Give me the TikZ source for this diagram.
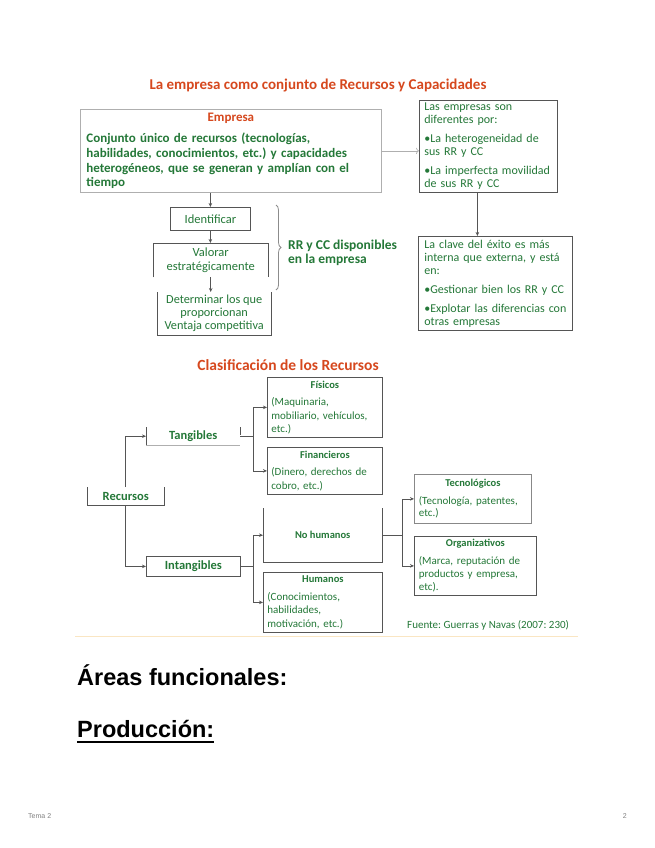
\documentclass[tikz,border=0pt]{standalone}
\usepackage{fontspec}
\setmainfont{Carlito}
\newfontfamily\headfont{Liberation Sans}
\usepackage{tikz}
\usetikzlibrary{arrows.meta, positioning, decorations.pathreplacing}

\definecolor{titlered}{RGB}{214,72,30}
\definecolor{textgreen}{RGB}{36,120,56}
\definecolor{edgegray}{RGB}{85,85,85}
\definecolor{lightedge}{RGB}{175,175,175}
\definecolor{rulebeige}{RGB}{250,230,195}
\newcommand{\setfs}[2]{\fontsize{#1}{#2}\selectfont}
\newcommand{\midline}[1]{\hbox to \hsize{\hfil #1\hfil}}
\newcommand{\boxhead}[1]{\midline{\setfs{10.5}{12}\bfseries #1}}
\frenchspacing

\begin{document}
\begin{tikzpicture}[
    x=1pt, y=-1pt,
    heading/.style={font=\setfs{15}{18}\bfseries, text=titlered, inner sep=0pt},
    panel/.style={rectangle, draw=edgegray, line width=0.8pt, fill=white, anchor=north west, inner xsep=5pt, inner ysep=0pt, align=left, text=textgreen, font=\setfs{12}{13}},
    flowbox/.style={rectangle, anchor=north west, inner sep=0pt, align=center, text=textgreen, font=\setfs{12.5}{13.5}},
    classbox/.style={panel, inner xsep=4pt, font=\setfs{11}{13.5}},
    branch/.style={rectangle, anchor=north west, inner sep=0pt, align=center, text=textgreen, font=\setfs{12.5}{14}\bfseries},
    edge/.style={draw=edgegray, line width=0.8pt},
    arrow/.style={-{Stealth[length=4pt, width=3.5pt]}, draw=edgegray, line width=0.8pt}
]

% page
\fill[white] (0,0) rectangle (655,848);
\useasboundingbox (0,0) rectangle (655,848);

% Recursos y Capacidades
\node[heading] (titleRC) at (318,86) {La empresa como conjunto de Recursos y Capacidades};

\node[panel, draw=lightedge, minimum width=301pt, text width=289pt, minimum height=83pt, inner xsep=6pt, font=\setfs{13}{14.7}\bfseries] (empresa) at (80,109)
  {\midline{\textcolor{titlered}{Empresa}}\\[7pt]
   Conjunto único de recursos (tecnologías,\\ habilidades, conocimientos, etc.) y capacidades\\ heterogéneos, que se generan y amplían con el\\ tiempo};

\node[panel, minimum width=138pt, text width=128pt, minimum height=92pt] (diferentes) at (419,100)
  {Las empresas son\\ diferentes por:\\[6pt] \textbullet La heterogeneidad de\\ sus RR y CC\\[6pt] \textbullet La imperfecta movilidad\\ de sus RR y CC};
\node[panel, minimum width=154pt, text width=142pt, minimum height=94pt, inner xsep=6pt] (clave) at (418,236)
  {La clave del éxito es más\\ interna que externa, y está\\ en:\\[6pt] \textbullet Gestionar bien los RR y CC\\[6pt] \textbullet Explotar las diferencias con\\ otras empresas};

\node[flowbox, draw=edgegray, line width=0.8pt, minimum width=80pt, minimum height=23pt] (identificar) at (170,207) {Identificar};
\node[flowbox, minimum width=115pt, minimum height=34pt, font=\setfs{12.5}{14}] (valorar) at (153,243) {Valorar\\ estratégicamente};
\node[flowbox, minimum width=114pt, minimum height=43pt, font=\setfs{12.3}{13}] (determinar) at (157,292) {Determinar los que\\ proporcionan\\ Ventaja competitiva};
\draw[edge] (valorar.south west) |- (valorar.north east) -- (valorar.south east);
\draw[edge] (determinar.north west) |- (determinar.south east) -- (determinar.north east);

\coordinate (braceTop) at (276,205);
\coordinate (braceEnd) at (276,290);
\draw[draw=lightedge!80!black, line width=0.8pt, decorate, decoration={brace, amplitude=5pt}] (braceTop) -- (braceEnd);
\node[anchor=west, inner sep=0pt, align=left, text=textgreen, font=\setfs{13.5}{14}\bfseries] (disponibles) at (288,253) {RR y CC disponibles\\ en la empresa};

\draw[arrow] (empresa.south -| identificar.north) -- (identificar.north);
\draw[arrow] (identificar.south) -- (identificar.south |- valorar.north);
\draw[arrow] (valorar.south) -- (valorar.south |- determinar.north);
\draw[-{To[length=3pt]}, draw=lightedge, line width=0.6pt] (empresa.east) -- (empresa.east -| diferentes.west);
\draw[arrow] ([xshift=-11pt]diferentes.south) -- ([xshift=-11pt]diferentes.south |- clave.north);

% Clasificacion
\node[heading, font=\setfs{15.5}{18}\bfseries] (titleCL) at (288,365) {Clasificación de los Recursos};

\node[branch, minimum width=77pt, minimum height=18pt] (recursos) at (87,487) {Recursos};
\node[branch, minimum width=94pt, minimum height=18pt] (tangibles) at (146,427) {Tangibles};
\node[branch, draw=edgegray, line width=0.8pt, minimum width=94pt, minimum height=20pt] (intangibles) at (146,556) {Intangibles};
\draw[edge] (recursos.north west) |- (recursos.south east) -- (recursos.north east);
\draw[edge] (tangibles.north west) -- (tangibles.south west);
\draw[draw=lightedge, line width=0.8pt] (tangibles.south west) -- (tangibles.south east);
\draw[edge] (tangibles.north east) -- ([yshift=-8pt]tangibles.north east);

\node[classbox, minimum width=115pt, text width=107pt, minimum height=60pt] (fisicos) at (267,377)
  {\boxhead{Físicos}\\[4pt] (Maquinaria,\\ mobiliario, vehículos,\\ etc.)};
\node[classbox, minimum width=115pt, text width=107pt, minimum height=47pt] (financieros) at (267,447)
  {\boxhead{Financieros}\\[4pt] (Dinero, derechos de\\ cobro, etc.)};
\node[branch, font=\setfs{10.5}{12}\bfseries, minimum width=119pt, minimum height=54pt] (nohumanos) at (263,508) {No humanos};
\draw[edge] (nohumanos.north west) |- (nohumanos.south east) -- (nohumanos.north east);
\node[classbox, minimum width=119pt, text width=111pt, minimum height=60pt] (humanos) at (263,572)
  {\boxhead{Humanos}\\[4pt] (Conocimientos,\\ habilidades,\\ motivación, etc.)};
\node[classbox, draw=edgegray!70, minimum width=117pt, text width=108pt, minimum height=49pt, inner xsep=4.5pt, font=\setfs{11}{12.5}] (tecnologicos) at (414,474)
  {\boxhead{Tecnológicos}\\[5pt] (Tecnología, patentes,\\ etc.)};
\node[classbox, minimum width=122pt, text width=113pt, minimum height=59pt, inner xsep=4.5pt, font=\setfs{11}{13}] (organizativos) at (414,536)
  {\boxhead{Organizativos}\\[5pt] (Marca, reputación de\\ productos y empresa,\\ etc).};

\draw[arrow] (recursos.north) |- (tangibles.west);
\draw[arrow] (recursos.south) |- (intangibles.west);
\draw[arrow] (tangibles.east) -- ++(13,0) |- (fisicos.west);
\draw[arrow] (tangibles.east) -- ++(13,0) |- (financieros.west);
\draw[arrow] (intangibles.east) -- ++(13,0) |- (nohumanos.west);
\draw[arrow] (intangibles.east) -- ++(13,0) |- (humanos.west);
\draw[arrow] (nohumanos.east) -- ++(20,0) |- (tecnologicos.west);
\draw[arrow] (nohumanos.east) -- ++(20,0) |- (organizativos.west);

\node[anchor=west, inner sep=0pt, text=textgreen, font=\setfs{11}{13}] (fuente) at (407,625) {Fuente: Guerras y Navas (2007: 230)};
\draw[rulebeige, line width=1pt] (75,636) -- (578,636);

% page text
\node[anchor=base west, inner sep=0pt, font=\headfont\bfseries\setfs{23.5}{28}] (areas) at (77,685) {Áreas funcionales:};
\node[anchor=base west, inner sep=0pt, font=\headfont\bfseries\setfs{23.5}{28}] (produccion) at (77,737) {Producción:};
\draw[line width=1.3pt] ([yshift=-5pt]produccion.base west) -- ([yshift=-5pt]produccion.base east);
\node[anchor=base west, inner sep=0pt, text=gray, font=\headfont\setfs{7}{8}] (tema) at (28,818) {Tema 2};
\node[anchor=base east, inner sep=0pt, text=gray, font=\headfont\setfs{7}{8}] (pagina) at (627,818) {2};

\end{tikzpicture}
\end{document}
